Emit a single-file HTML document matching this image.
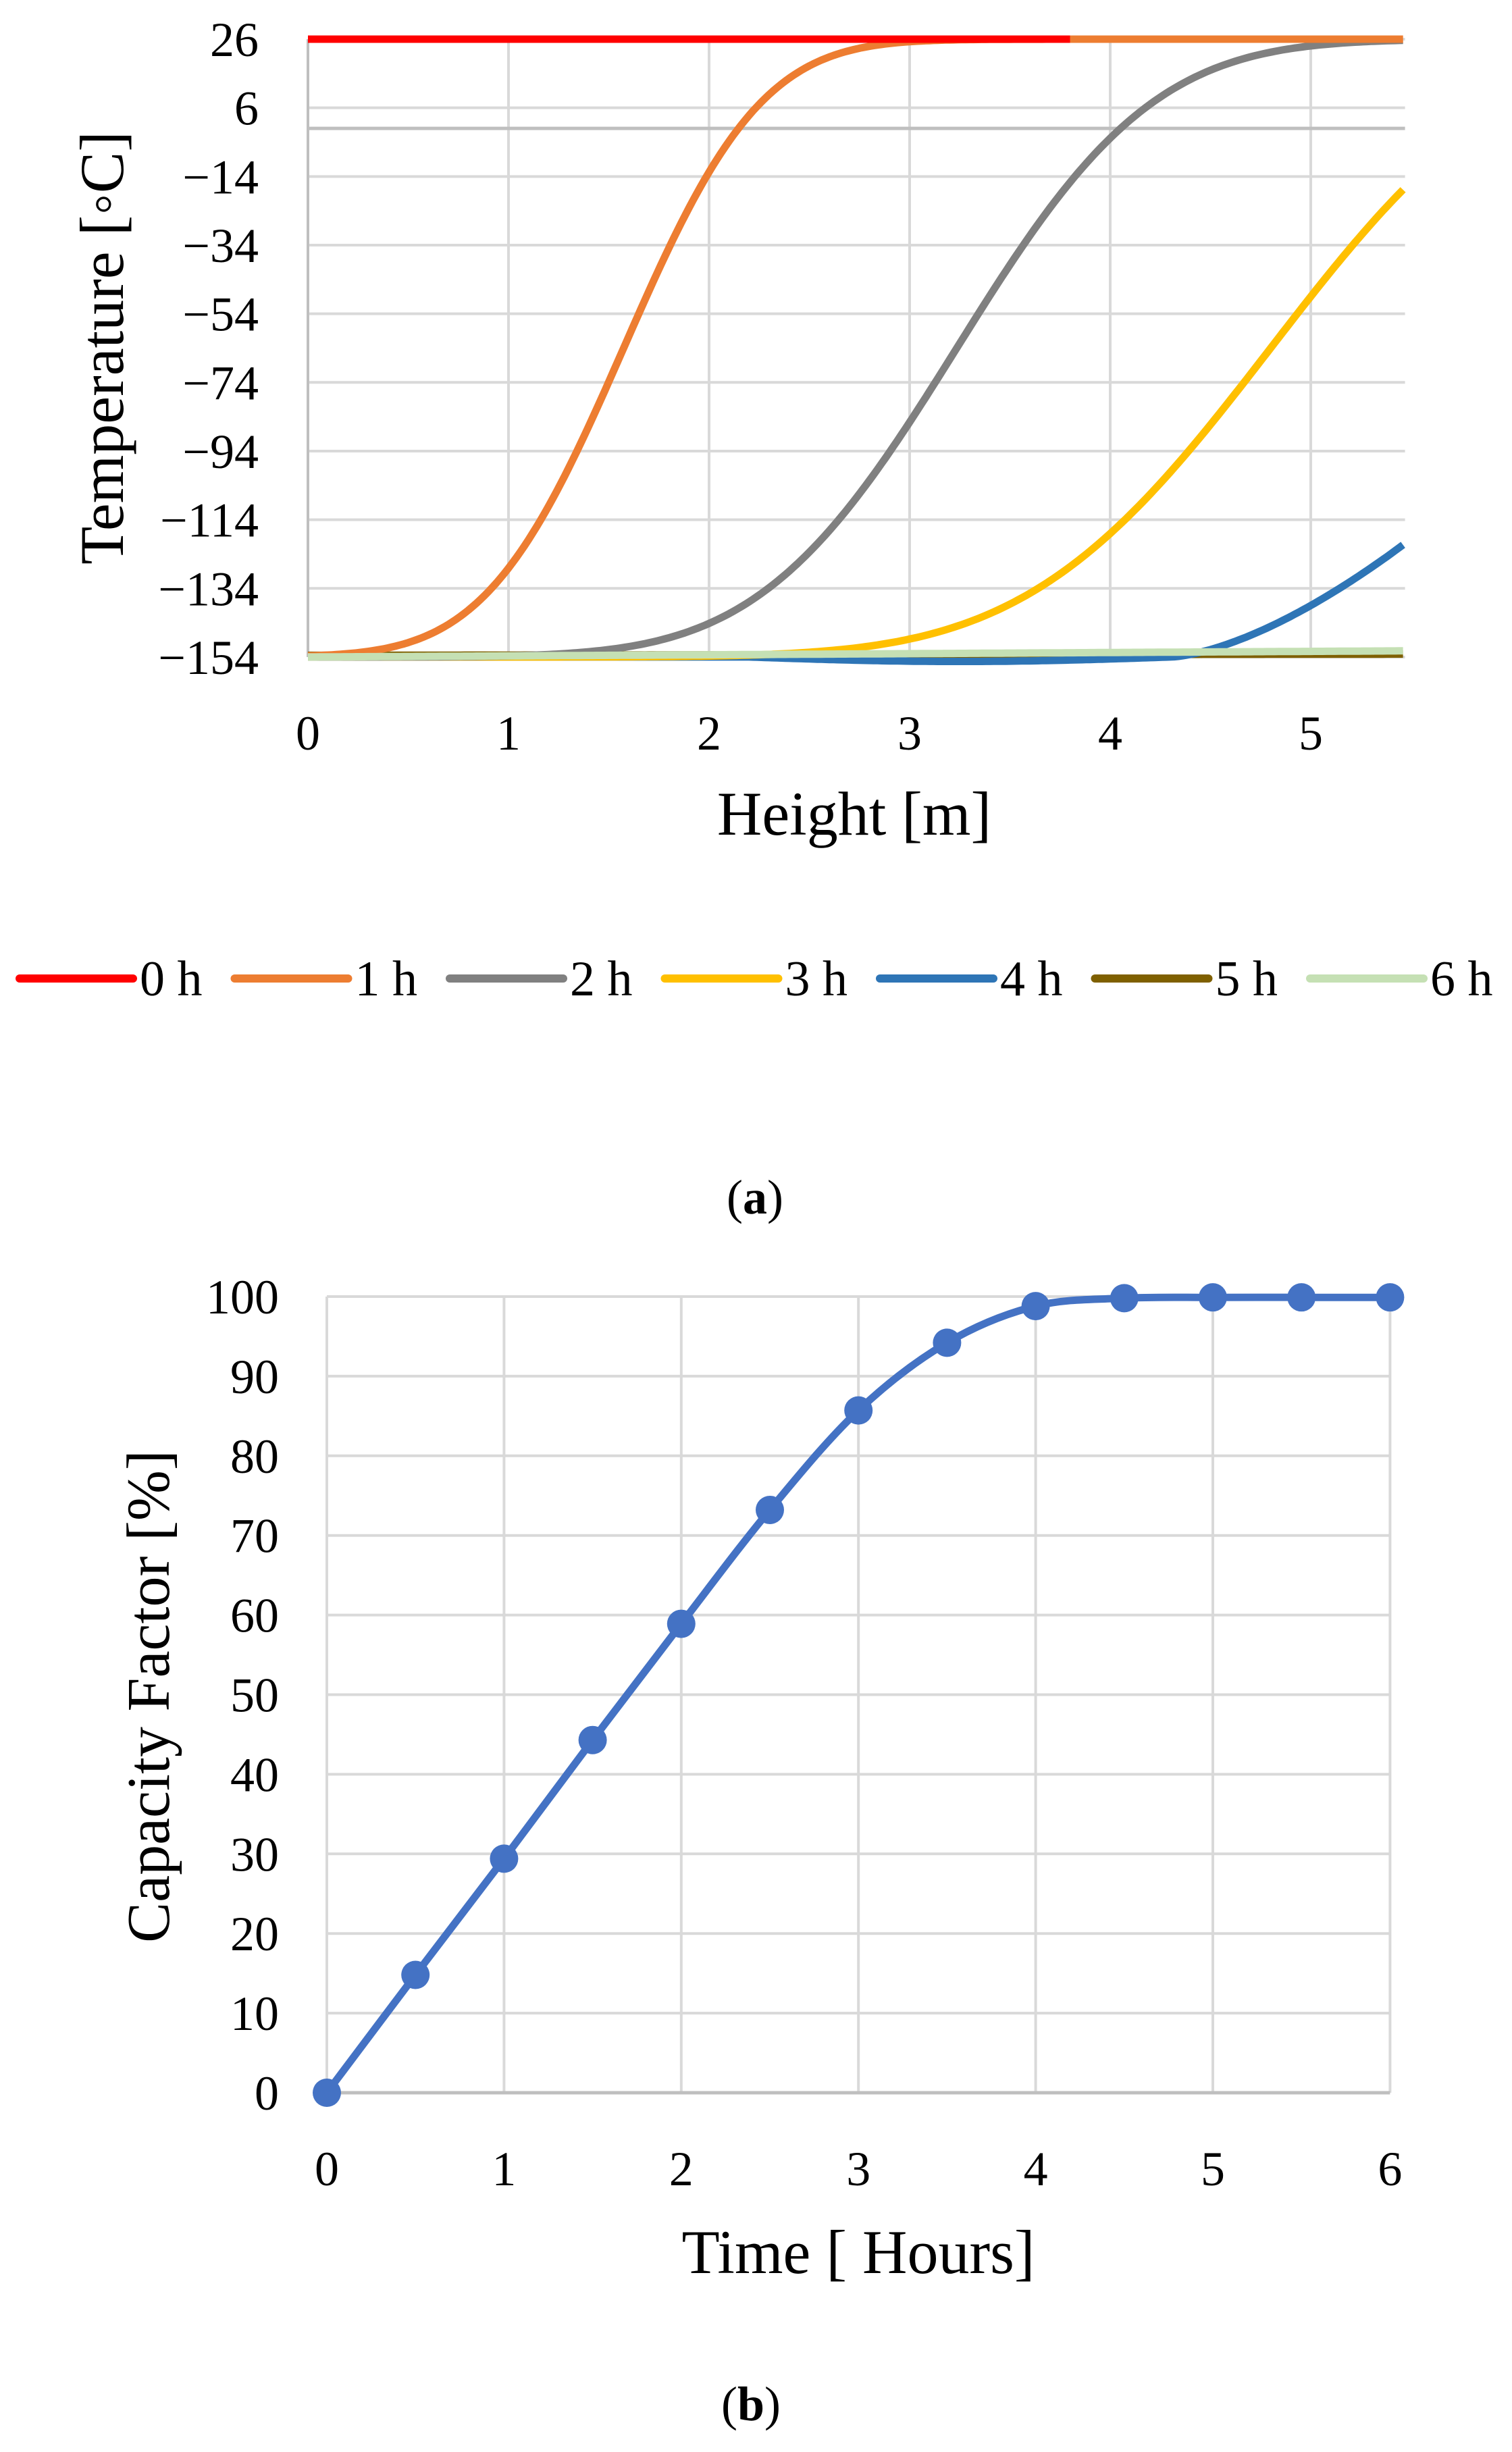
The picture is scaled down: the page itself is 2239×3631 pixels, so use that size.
<!DOCTYPE html>
<html><head><meta charset="utf-8"><style>
html,body{margin:0;padding:0;background:#fff;}
svg{display:block;}
text{font-family:"Liberation Serif",serif;fill:#000;}
</style></head><body>
<svg id="s" width="2239" height="3631" viewBox="0 0 2239 3631" xmlns="http://www.w3.org/2000/svg">
<g id="ga"></g>
<g id="gb"></g>
<text x="1118" y="1797" font-size="72" text-anchor="middle">(<tspan font-weight="bold">a</tspan>)</text>
<text x="1112" y="3584" font-size="72" text-anchor="middle">(<tspan font-weight="bold">b</tspan>)</text>
</svg>
<script>
var NS="http://www.w3.org/2000/svg";
function el(p,t,a,txt){var e=document.createElementNS(NS,t);for(var k in a)e.setAttribute(k,a[k]);if(txt!==undefined)e.textContent=txt;p.appendChild(e);return e;}
function erf(x){var s=x<0?-1:1;x=Math.abs(x);var t=1/(1+0.3275911*x);var y=1-(((((1.061405429*t-1.453152027)*t)+1.421413741)*t-0.284496736)*t+0.254829592)*t*Math.exp(-x*x);return s*y;}
function Phi(z){return 0.5*(1+erf(z/Math.SQRT2));}
var ga=document.getElementById('ga');
var X0=456,PX=297,Y26=58,PD=5.083,XR=456+5.47*297;
function ya(t){return Y26+(26-t)*PD;}
function xa(m){return X0+m*PX;}
for(var i=0;i<10;i++){var t=26-20*i;var y=ya(t);
 el(ga,'line',{x1:X0,x2:XR,y1:y,y2:y,stroke:'#d9d9d9','stroke-width':4});
 el(ga,'text',{x:383,y:y+25,'font-size':72,'text-anchor':'end'},(t<0?'\u2212'+(-t):''+t));}
for(var m=1;m<=5;m++){el(ga,'line',{x1:xa(m),x2:xa(m),y1:Y26,y2:ya(-154),stroke:'#d9d9d9','stroke-width':4});}
el(ga,'line',{x1:X0,x2:X0,y1:Y26,y2:ya(-154),stroke:'#bfbfbf','stroke-width':4});
el(ga,'line',{x1:X0,x2:XR,y1:ya(0),y2:ya(0),stroke:'#bfbfbf','stroke-width':5});
for(var m=0;m<=5;m++)el(ga,'text',{x:xa(m),y:1110,'font-size':72,'text-anchor':'middle'},''+m);
el(ga,'text',{x:1265,y:1236,'font-size':92,'text-anchor':'middle'},'Height [m]');
el(ga,'text',{x:0,y:0,'font-size':92,'text-anchor':'middle',transform:'translate(182,515) rotate(-90)'},'Temperature [\u25e6C]');
function curve(f,col,a,b){a=a||0;b=b||5.47;var d='';for(var m=a;m<=b+1e-9;m+=0.02){d+=(d?'L':'M')+xa(m).toFixed(1)+','+ya(f(m)).toFixed(1);}
 el(ga,'path',{d:d,fill:'none',stroke:col,'stroke-width':11,'stroke-linejoin':'round'});}
function nc(c,s){return function(x){return -154+180*Phi((x-c)/s);};}
curve(function(x){return -153.5+0.35*x/5.47;},'#7F6000');
curve(function(x){if(x<4.3){var dip=(x>2.2)?-1.3*Math.sin(Math.PI*(x-2.2)/2.1):0;return -154+dip;}return -154+26*Math.pow(x-4.3,1.54);},'#2E75B6');
curve(nc(4.80,0.95),'#FFC000');
curve(nc(3.235,0.77),'#808080');
curve(nc(1.574,0.54),'#ED7D31');
curve(function(x){return -154+1.8*x/5.47;},'#C5E0B4');
el(ga,'line',{x1:X0,x2:xa(3.8),y1:ya(26),y2:ya(26),stroke:'#FF0000','stroke-width':11});
curve(function(x){return 26;},'#ED7D31',3.8,5.47);
var cols=['#FF0000','#ED7D31','#808080','#FFC000','#2E75B6','#7F6000','#C5E0B4'];
for(var i=0;i<7;i++){var x=29+i*318.5;
 el(ga,'line',{x1:x,x2:x+168,y1:1449,y2:1449,stroke:cols[i],'stroke-width':12,'stroke-linecap':'round'});
 el(ga,'text',{x:x+178,y:1474,'font-size':74},i+' h');}
var gb=document.getElementById('gb');
var BX=484,BP=262.4,BY0=3099,BPY=11.79;
function xb(h){return BX+h*BP;} function yb(v){return BY0-v*BPY;}
for(var v=10;v<=100;v+=10){el(gb,'line',{x1:xb(0),x2:xb(6),y1:yb(v),y2:yb(v),stroke:'#d9d9d9','stroke-width':4});}
for(var h=1;h<=6;h++){el(gb,'line',{x1:xb(h),x2:xb(h),y1:yb(100),y2:yb(0),stroke:'#d9d9d9','stroke-width':4});}
el(gb,'line',{x1:xb(0),x2:xb(0),y1:yb(100),y2:yb(0),stroke:'#d9d9d9','stroke-width':4});
el(gb,'line',{x1:xb(0),x2:xb(6),y1:yb(0),y2:yb(0),stroke:'#bfbfbf','stroke-width':5});
for(var v=0;v<=100;v+=10)el(gb,'text',{x:413,y:yb(v)+25,'font-size':72,'text-anchor':'end'},''+v);
for(var h=0;h<=6;h++)el(gb,'text',{x:xb(h),y:3236,'font-size':72,'text-anchor':'middle'},''+h);
el(gb,'text',{x:1271,y:3366,'font-size':92,'text-anchor':'middle'},'Time [ Hours]');
el(gb,'text',{x:0,y:0,'font-size':90,'text-anchor':'middle',transform:'translate(250,2512) rotate(-90)'},'Capacity Factor [%]');
var pv=[0,14.8,29.4,44.3,58.9,73.2,85.7,94.2,98.8,99.8,99.9,99.9,99.9];
var P=pv.map(function(v,i){return [xb(i*0.5),yb(v)];});
var d='M'+P[0][0]+','+P[0][1];
for(var i=0;i<P.length-1;i++){var p0=P[Math.max(0,i-1)],p1=P[i],p2=P[i+1],p3=P[Math.min(P.length-1,i+2)];
 var c1=[p1[0]+(p2[0]-p0[0])/6,p1[1]+(p2[1]-p0[1])/6],c2=[p2[0]-(p3[0]-p1[0])/6,p2[1]-(p3[1]-p1[1])/6];
 d+='C'+c1[0].toFixed(1)+','+c1[1].toFixed(1)+' '+c2[0].toFixed(1)+','+c2[1].toFixed(1)+' '+p2[0].toFixed(1)+','+p2[1].toFixed(1);}
el(gb,'path',{d:d,fill:'none',stroke:'#4472C4','stroke-width':11});
P.forEach(function(p){el(gb,'circle',{cx:p[0],cy:p[1],r:21,fill:'#4472C4'});});
</script>
</body></html>
